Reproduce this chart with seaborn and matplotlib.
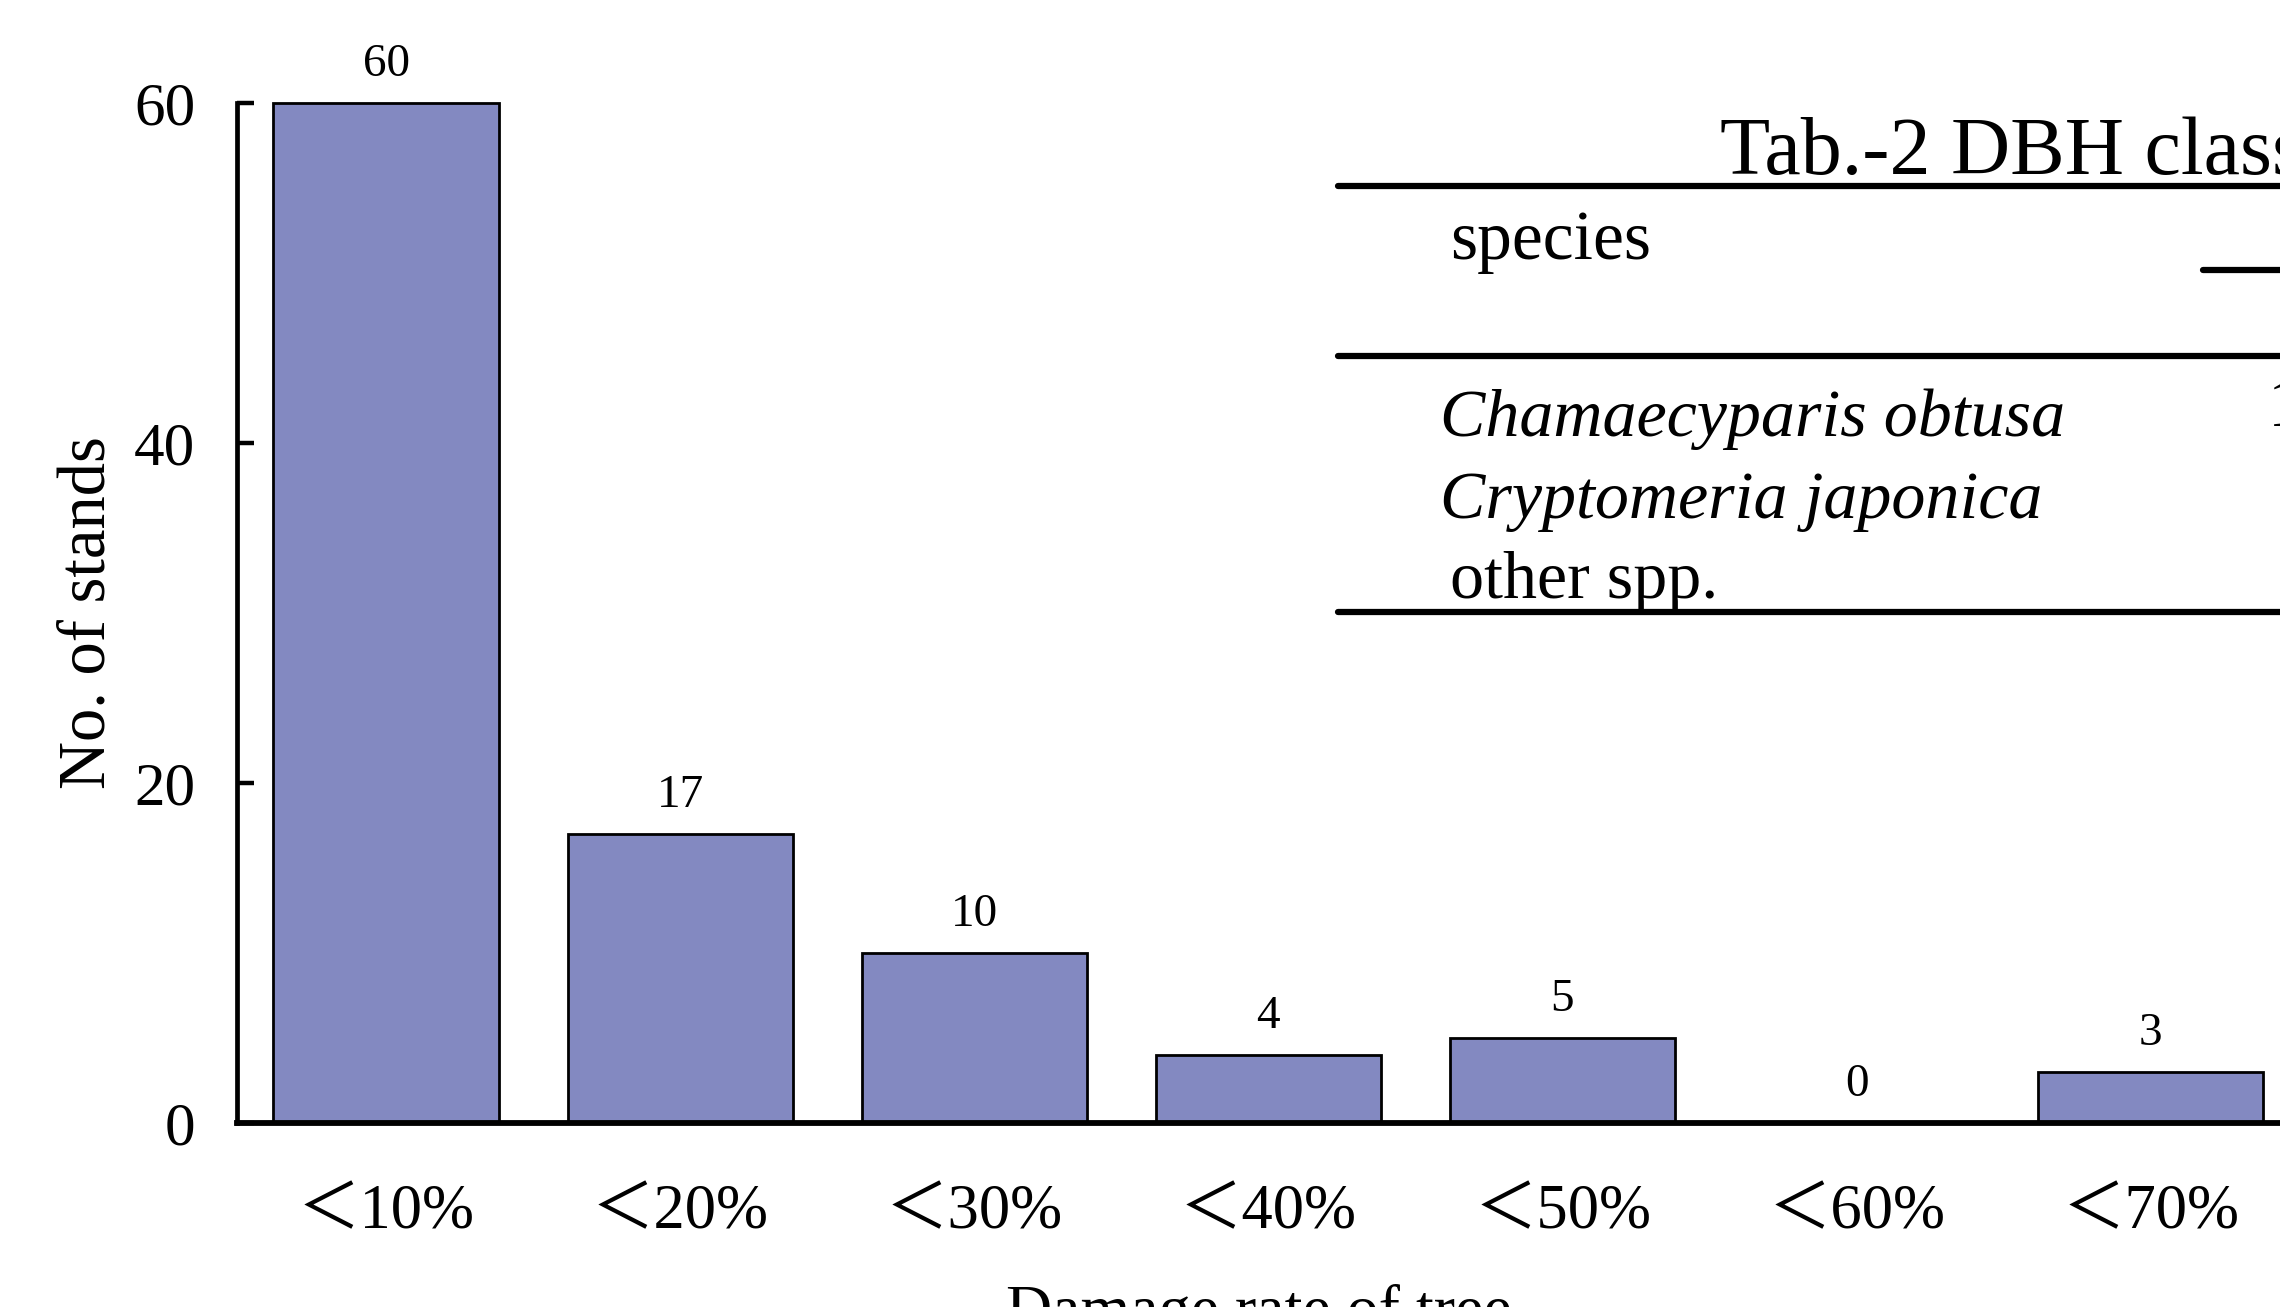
import matplotlib
matplotlib.use('Agg')
import matplotlib.pyplot as plt
from matplotlib.lines import Line2D
import seaborn as sns

# Data
categories = ['＜10%', '＜20%', '＜30%', '＜40%', '＜50%', '＜60%', '＜70%']
stands = [60, 17, 10, 4, 5, 0, 3]
y_ticks = [0, 20, 40, 60]

# Overlapping table fragment (cut off at the right edge)
table_title = 'Tab.-2 DBH class'
table_header = 'species'
table_rows = ['Chamaecyparis obtusa', 'Cryptomeria japonica', 'other spp.']
table_row_italic = [True, True, False]

sns.set_style('white')
plt.rcParams['font.family'] = ['Liberation Serif', 'Noto Sans CJK JP']
for key in ['text.color', 'axes.labelcolor', 'xtick.color', 'ytick.color', 'axes.edgecolor']:
    plt.rcParams[key] = 'black'

fig = plt.figure(figsize=(22.8, 13.07), dpi=100)
ax = fig.add_axes([0.104, 0.1408, 0.896, 0.7804])

sns.barplot(x=categories, y=stands, color='#8389c1', saturation=1,
            width=0.767, edgecolor='black', linewidth=2, ax=ax)
for patch in ax.patches:
    patch.set_clip_on(False)
ax.bar_label(ax.containers[0], labels=[str(v) for v in stands],
             padding=12, fontsize=34)

ax.set_xlim(-0.507, 6.44)
ax.set_ylim(0, 60)
ax.set_yticks(y_ticks)
ax.tick_params(axis='y', direction='in', length=12, width=3.2,
               labelsize=44, pad=30, left=True)
ax.tick_params(axis='x', length=0, labelsize=45, pad=44)

sns.despine(ax=ax)
ax.spines['left'].set_linewidth(3.4)
ax.spines['bottom'].set_linewidth(4.2)
ax.spines['bottom'].set_zorder(5)

ax.set_ylabel('No. of stands', fontsize=48)
ax.yaxis.set_label_coords(-0.058, 0.5)
ax.set_xlabel('Damage rate of tree', fontsize=46, labelpad=30)

# table rules
for y0, x0 in [(0.8577, 0.5868), (0.7276, 0.5868), (0.5318, 0.5868), (0.7934, 0.9662)]:
    fig.add_artist(Line2D([x0, 1.0], [y0, y0], transform=fig.transFigure,
                          color='black', linewidth=4.5))

fig.text(0.7544, 1 - 174 / 1307, table_title, fontsize=59, va='baseline')
fig.text(0.636, 1 - 259 / 1307, table_header, fontsize=50, va='baseline')
row_baselines = [436, 518, 598]
for name, italic, yb in zip(table_rows, table_row_italic, row_baselines):
    fig.text(0.6316 if italic else 0.636, 1 - yb / 1307, name, fontsize=49,
             style='italic' if italic else 'normal', va='baseline')
fig.text(0.9947, 1 - 426 / 1307, '1', fontsize=50, va='baseline')

fig.savefig('out.png', dpi=100)
